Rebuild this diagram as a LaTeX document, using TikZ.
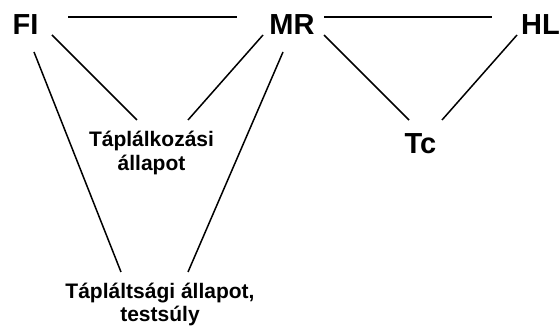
\documentclass[tikz,border=0pt]{standalone}
\usepackage{fontspec}
\setmainfont{Liberation Sans}
\begin{document}
\begin{tikzpicture}[x=1pt,y=-1pt,
  big/.style={font=\bfseries\fontsize{29}{33}\selectfont,inner sep=0pt},
  small/.style={font=\bfseries\fontsize{21}{24}\selectfont,inner sep=0pt,align=center},
  link/.style={line width=1.5pt,black}]
\useasboundingbox (0,0) rectangle (560,331);
\node[big,anchor=base] (FI) at (25.5,35) {FI};
\node[big,anchor=base] (MR) at (292,35) {MR};
\node[big,anchor=base west] (HL) at (521,35) {HL};
\node[big,anchor=base] (Tc) at (420.5,154) {Tc};
\node[small,anchor=base] (T1) at (151.5,170.5) {Táplálkozási\\állapot};
\node[small,anchor=base] (T2) at (160,322) {Tápláltsági állapot,\\testsúly};
\draw[link] ([shift={(42.5,-18)}]FI.base) -- ([shift={(-55,-18)}]MR.base);
\draw[link] ([shift={(32,-18)}]MR.base) -- ([shift={(-29,-18)}]HL.base west);
\draw[link] ([shift={(26.5,0)}]FI.base) -- ([shift={(-14.5,-50.5)}]T1.base);
\draw[link] ([shift={(-29,0)}]MR.base) -- ([shift={(36.5,-50.5)}]T1.base);
\draw[link] ([shift={(8.5,17)}]FI.base) -- ([shift={(-39,-50)}]T2.base);
\draw[link] ([shift={(-9,17)}]MR.base) -- ([shift={(28,-50)}]T2.base);
\draw[link] ([shift={(32,0)}]MR.base) -- ([shift={(-11.5,-34)}]Tc.base);
\draw[link] ([shift={(-4,0)}]HL.base west) -- ([shift={(21.5,-34)}]Tc.base);
\end{tikzpicture}
\end{document}
